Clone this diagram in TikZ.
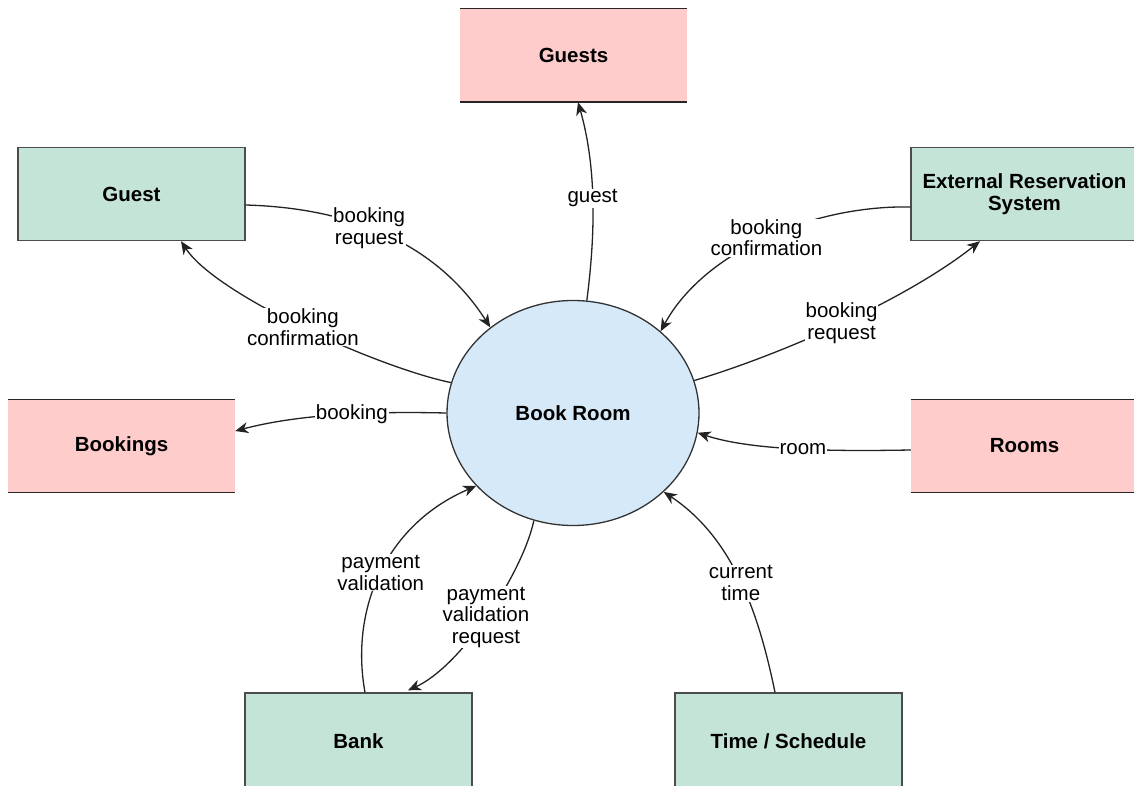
\documentclass[tikz,border=0pt]{standalone}
\usepackage{fontspec}
\setmainfont{Liberation Sans}
\usetikzlibrary{shapes.geometric,arrows.meta}
\definecolor{storefill}{RGB}{255,204,204}
\definecolor{entityfill}{RGB}{196,228,216}
\definecolor{procfill}{RGB}{214,233,248}
\definecolor{wire}{RGB}{35,35,35}
\begin{document}
\begin{tikzpicture}[x=1pt,y=-1pt,
  boxtext/.style={font=\fontsize{20.5}{22}\selectfont\bfseries, align=center, text=black},
  entity/.style={boxtext, draw=black!70, line width=1.4pt, fill=entityfill,
    minimum width=227pt, minimum height=93pt, inner sep=0pt},
  store/.style={boxtext, fill=storefill, minimum width=227pt, minimum height=93pt, inner sep=0pt},
  storeline/.style={draw=black!85, line width=1.4pt},
  proc/.style={boxtext, ellipse, draw=black!80, line width=1.3pt, fill=procfill,
    minimum width=252pt, minimum height=225pt, inner sep=0pt},
  flow/.style={draw=wire, line width=1.3pt, -{Stealth[length=13pt,width=11pt,inset=4pt]}},
  lbl/.style={fill=white, inner sep=1pt, font=\fontsize{20.5}{21.5}\selectfont, align=center, text=black}]

\clip (0,0) rectangle (1134,786);
\fill[white] (0,0) rectangle (1134,786);

% process
\node[proc] (br) at (573,413) {Book Room};

% data stores (open rectangles)
\node[store] (guests) at (573.5,55.5) {Guests};
\node[store] (bookings) at (121.5,446) {Bookings};
\node[store] (rooms) at (1024.5,446) {Rooms};
\foreach \s in {guests,bookings,rooms}{
  \draw[storeline] (\s.north west) -- (\s.north east);
  \draw[storeline] (\s.south west) -- (\s.south east);
}

% external entities
\node[entity] (guest) at (131.5,194) {Guest};
\node[entity] (ers) at (1024.5,194) {External Reservation\\System};
\node[entity, minimum height=96pt] (bank) at (358.5,741) {Bank};
\node[entity, minimum height=96pt] (time) at (788.5,741) {Time / Schedule};

% data flows
\draw[flow] (br.83.4) .. controls (596,230) and (596,165) .. ([xshift=4.5pt]guests.south)
  node[lbl,pos=0.5] (lguest) {guest};
\draw[flow] ([yshift=-11pt]guest.east) .. controls (315,207) and (424,224) .. (br.134)
  node[lbl,pos=0.5] (lreq1) {booking\\request};
\draw[flow] (br.166) .. controls (380,368) and (217,296) .. ([xshift=49.5pt]guest.south)
  node[lbl,pos=0.5] (lconf1) {booking\\confirmation};
\draw[flow] (br.180) .. controls (400,412) and (311,411) .. ([yshift=15pt]bookings.east)
  node[lbl,pos=0.5] (lbook) {booking};
\draw[flow] ([yshift=-13pt]ers.west) .. controls (815,205) and (705,250) .. (br.43.3)
  node[lbl,pos=0.5] (lconf2) {booking\\confirmation};
\draw[flow] (br.15.5) .. controls (780,355) and (906,300) .. ([xshift=-44.5pt]ers.south)
  node[lbl,pos=0.5] (lreq2) {booking\\request};
\draw[flow] ([yshift=-4pt]rooms.west) .. controls (850,451) and (755,452) .. (br.-9.9)
  node[lbl,pos=0.5] (lroom) {room};
\draw[flow] ([xshift=6.5pt]bank.north) .. controls (350,610) and (385,525) .. (br.217)
  node[lbl,pos=0.5] (lpay) {payment\\validation};
\draw[flow] (br.250.4) .. controls (522,575) and (460,667) .. ([xshift=49.5pt,yshift=2pt]bank.north)
  node[lbl,pos=0.5] (lpayreq) {payment\\validation\\request};
\draw[flow] ([xshift=-13.5pt]time.north) .. controls (760,620) and (736,540) .. (br.319)
  node[lbl,pos=0.5] (ltime) {current\\time};

\end{tikzpicture}
\end{document}
